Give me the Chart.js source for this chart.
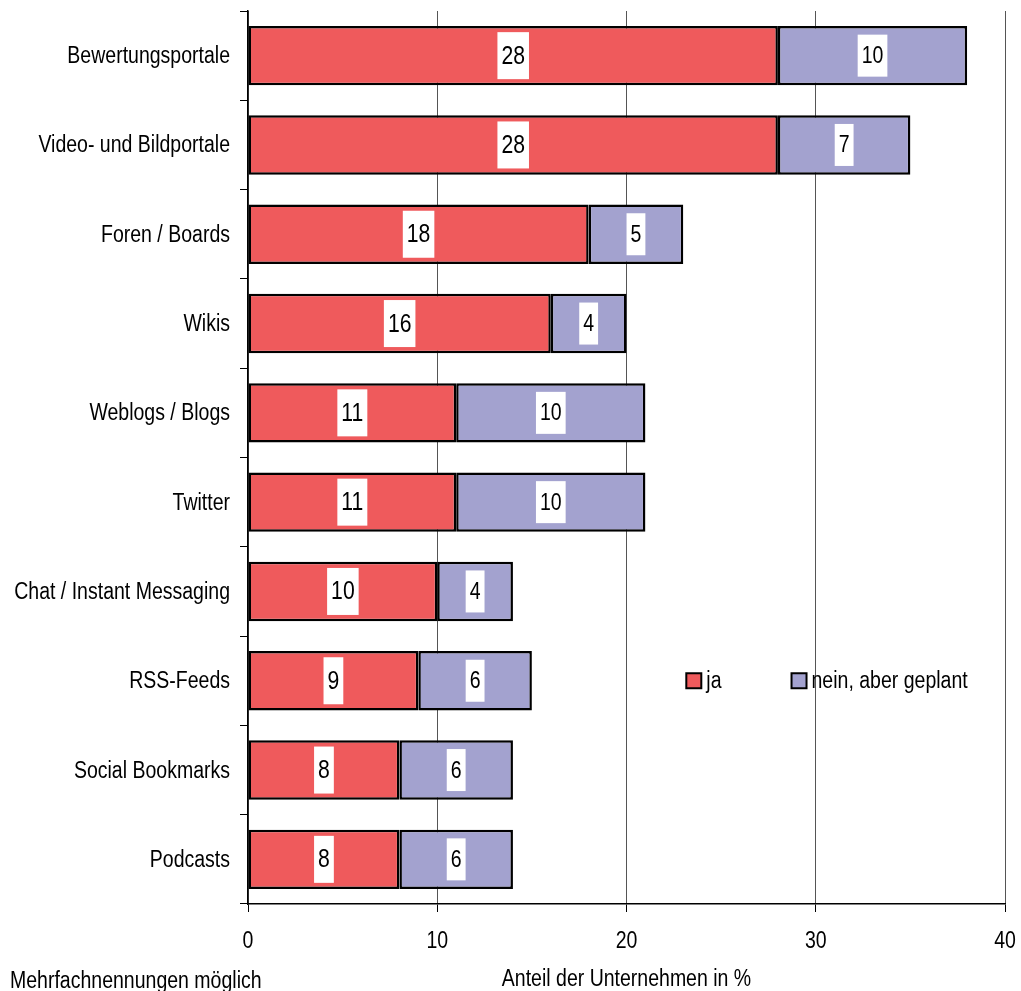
<!DOCTYPE html>
<html>
<head>
<meta charset="utf-8">
<script src="https://cdn.jsdelivr.net/npm/chart.js@4/dist/chart.umd.min.js"></script>
<style>
  html, body { margin: 0; padding: 0; background: #ffffff; }
  #wrap { width: 1021px; height: 991px; position: relative; }
</style>
</head>
<body>
<div id="wrap"><canvas id="c"></canvas></div>
<script>
// Social-media tools used by companies (share in %)
const categories = [
  'Bewertungsportale', 'Video- und Bildportale', 'Foren / Boards', 'Wikis',
  'Weblogs / Blogs', 'Twitter', 'Chat / Instant Messaging', 'RSS-Feeds',
  'Social Bookmarks', 'Podcasts'
];
const jaValues      = [28, 28, 18, 16, 11, 11, 10, 9, 8, 8];
const geplantValues = [10, 7, 5, 4, 10, 10, 4, 6, 6, 6];
const seriesNames   = ['ja', 'nein, aber geplant'];
const xTickValues   = [0, 10, 20, 30, 40];
const axisTitle     = 'Anteil der Unternehmen in %';
const footnote      = 'Mehrfachnennungen möglich';

const FONT = '"Liberation Sans", Arial, sans-serif';
const NARROW = 0.83;          // horizontal squeeze for a narrow sans look
const RED = '#ef5a5c';
const BLUE = '#a3a2cf';

// Draws text with a horizontal squeeze, anchored at (x, y)
function narrowText(ctx, text, x, y, size, align, baseline) {
  ctx.save();
  ctx.font = size + 'px ' + FONT;
  ctx.textAlign = align;
  ctx.textBaseline = baseline;
  ctx.fillStyle = '#000';
  ctx.translate(x, y);
  ctx.scale(NARROW, 1);
  ctx.fillText(text, 0, 0);
  ctx.restore();
}
function narrowWidth(ctx, text, size) {
  ctx.save();
  ctx.font = size + 'px ' + FONT;
  const w = ctx.measureText(text).width * NARROW;
  ctx.restore();
  return w;
}

// Category and value tick labels, drawn from the scales' own ticks
const axisLabels = {
  id: 'axisLabels',
  afterDraw(chart) {
    const ctx = chart.ctx;
    const ys = chart.scales.y, xs = chart.scales.x;
    chart.data.labels.forEach((lab, i) => {
      narrowText(ctx, lab, ys.right - 18, ys.getPixelForTick(i) + 1, 23.5, 'right', 'middle');
    });
    xs.ticks.forEach(t => {
      narrowText(ctx, String(t.value), xs.getPixelForValue(t.value), xs.top + 44, 23.5, 'center', 'alphabetic');
    });
  }
};

// White boxed value labels centred in each bar segment
const valueLabels = {
  id: 'valueLabels',
  afterDatasetsDraw(chart) {
    const ctx = chart.ctx;
    chart.data.datasets.forEach((ds, di) => {
      const meta = chart.getDatasetMeta(di);
      const size = di === 0 ? 25.5 : 23.5;
      const boxH = di === 0 ? 47 : 42;
      meta.data.forEach((bar, i) => {
        const p = bar.getProps(['x', 'y', 'base'], true);
        const cx = (p.x + p.base) / 2;
        const txt = String(ds.data[i]);
        const w = narrowWidth(ctx, txt, size) + 8;
        ctx.save();
        ctx.fillStyle = '#ffffff';
        ctx.fillRect(cx - w / 2, p.y - boxH / 2, w, boxH);
        ctx.restore();
        narrowText(ctx, txt, cx, p.y + 1, size, 'center', 'middle');
      });
    });
  }
};

// Legend placed inside the plot, on the row of the 8th category
const innerLegend = {
  id: 'innerLegend',
  afterDraw(chart) {
    const ctx = chart.ctx;
    const area = chart.chartArea;
    const cy = chart.scales.y.getPixelForValue(7);
    const starts = [area.left + (area.right - area.left) * 0.579,
                    area.left + (area.right - area.left) * 0.718];
    chart.data.datasets.forEach((ds, i) => {
      const x = starts[i];
      ctx.save();
      ctx.fillStyle = ds.backgroundColor;
      ctx.fillRect(x, cy - 7.5, 15, 15);
      ctx.lineWidth = 2;
      ctx.strokeStyle = '#000';
      ctx.strokeRect(x, cy - 7.5, 15, 15);
      ctx.restore();
      narrowText(ctx, ds.label, x + 20, cy + 1, 23.5, 'left', 'middle');
    });
  }
};

// Axis title and footnote below the x axis
const bottomTexts = {
  id: 'bottomTexts',
  afterDraw(chart) {
    const ctx = chart.ctx;
    const area = chart.chartArea;
    narrowText(ctx, axisTitle, (area.left + area.right) / 2, 986, 23.5, 'center', 'alphabetic');
    narrowText(ctx, footnote, 10, 988, 23.5, 'left', 'alphabetic');
  }
};

new Chart(document.getElementById('c'), {
  type: 'bar',
  data: {
    labels: categories,
    datasets: [
      { label: seriesNames[0], data: jaValues, backgroundColor: RED },
      { label: seriesNames[1], data: geplantValues, backgroundColor: BLUE }
    ]
  },
  options: {
    indexAxis: 'y',
    responsive: true,
    maintainAspectRatio: false,
    animation: false,
    events: [],
    datasets: {
      bar: {
        borderColor: '#000000',
        borderWidth: 2.5,
        borderSkipped: false,
        categoryPercentage: 1,
        barPercentage: 0.665
      }
    },
    layout: { padding: { top: 11, right: 16, bottom: 0, left: 0 } },
    plugins: {
      legend: { display: false },
      tooltip: { enabled: false },
      title: { display: false }
    },
    scales: {
      x: {
        stacked: true,
        min: 0,
        max: 40,
        afterBuildTicks(scale) { scale.ticks = xTickValues.map(v => ({ value: v })); },
        afterFit(scale) {
          scale.height = 87;
          scale.paddingLeft = 0; scale.paddingRight = 0;
        },
        ticks: { display: false },
        grid: {
          color: '#555555',
          lineWidth: 1,
          tickLength: 8,
          tickColor: '#000'
        },
        border: { display: true, color: '#000', width: 1.5 }
      },
      y: {
        stacked: true,
        afterFit(scale) {
          scale.width = 248;
          scale.paddingTop = 0; scale.paddingBottom = 0;
        },
        ticks: { display: false },
        grid: {
          offset: true,
          drawOnChartArea: false,
          tickLength: 8,
          color: '#000',
          lineWidth: 1
        },
        border: { display: true, color: '#000', width: 1.5 }
      }
    }
  },
  plugins: [valueLabels, axisLabels, innerLegend, bottomTexts]
});
</script>
</body>
</html>
